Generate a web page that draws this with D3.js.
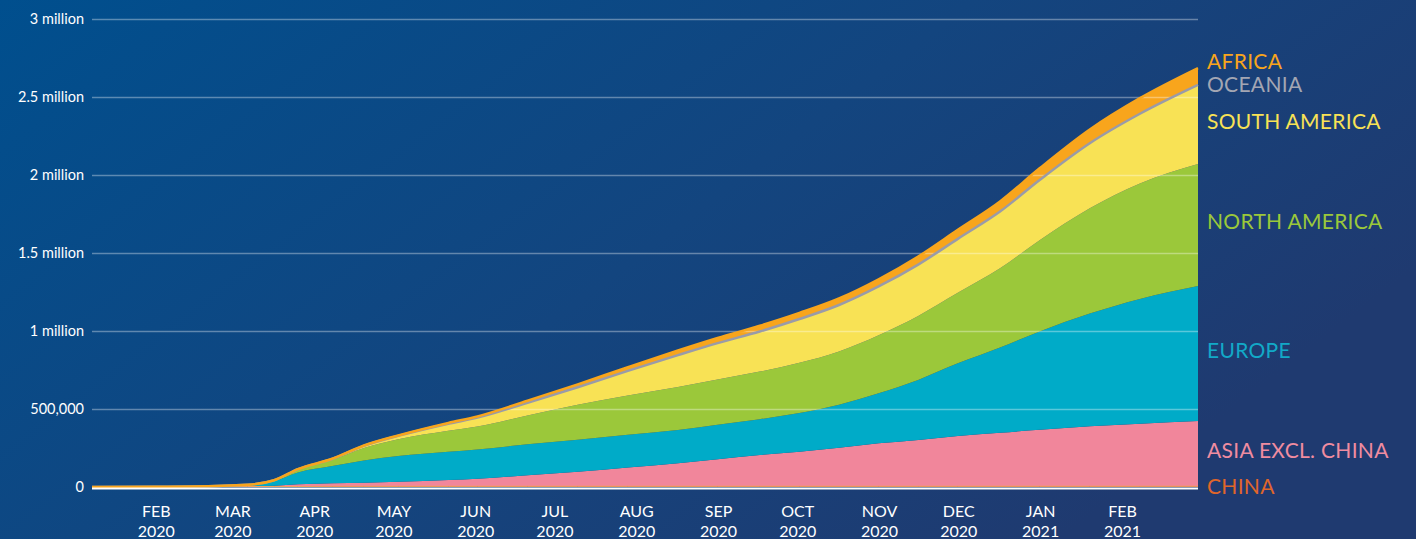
<html>
<head>
<script src="https://d3js.org/d3.v7.min.js"></script>
<style>
  body { margin: 0; background: #0d4581; }
  svg text { font-family: Lato, "Open Sans", sans-serif; }
  .gridlines line { stroke: #fff; stroke-opacity: 0.35; stroke-width: 1.5; }
  .gridlines .domain { stroke: none; }
</style>
</head>
<body>
<svg id="chart" width="1416" height="539"></svg>
<script>
// cumulative deaths, thousands
const dates = ['2020-01-22','2020-02-15','2020-02-29','2020-03-21','2020-03-31','2020-04-09','2020-04-22',
  '2020-05-04','2020-05-17','2020-06-05','2020-06-16','2020-07-05','2020-07-24','2020-08-12','2020-08-31',
  '2020-09-15','2020-10-01','2020-10-16','2020-10-31','2020-11-15','2020-11-30','2020-12-15','2020-12-31',
  '2021-01-15','2021-02-03','2021-02-22','2021-03-16'];
const china        = [0.02,1.67,2.87,3.26,3.3,3.3,4.6,4.6,4.6,4.6,4.6,4.6,4.6,4.7,4.7,4.7,4.7,4.7,4.7,4.7,4.7,4.7,4.8,4.8,4.8,4.8,4.85];
const asiaExChina  = [0,0,0.05,1.9,4.5,14,19,23,29,40,48,71,93,120,147,173,200,221,247,275,297,322,343,362,385,401,418];
const europe       = [0,0,0.03,8.5,30,76,111,143,165,181,188,198,206,210,214,221,230,248,276,321,385,466,547,630,722,800,865];
const northAmerica = [0,0,0,0.35,5,19,40,80,108,135,147,184,224,252,276,291,305,322,341,372,410,452,507,585,675,740,782];
const southAmerica = [0,0,0,0.03,0.4,1.5,5,13,21,45,57,82,112,157,203,232,256,280,297,312,328,345,363,385,416,446,507];
const oceania      = [0,0,0,0.01,0.02,0.05,0.1,0.12,0.13,0.13,0.13,0.15,0.2,0.35,0.65,0.85,0.95,0.95,0.95,0.95,0.95,0.95,0.95,0.95,0.95,0.95,0.95];
const africa       = [0,0,0,0.03,0.2,0.7,1.2,2,2.8,5,7.5,13,18,24,30,33,37,39,42,46,52,58,65,75,88,100,108];

const keys = ['china','asia','europe','northAmerica','southAmerica','oceania','africa'];
const seriesNames = ['CHINA','ASIA EXCL. CHINA','EUROPE','NORTH AMERICA','SOUTH AMERICA','OCEANIA','AFRICA'];
const seriesColors = ['#e8692a','#f1869b','#00abc8','#9bc83a','#f8e255','#9a9ba8','#f8a51c'];
const labelColors = ['#e0662a','#f08ca0','#12a9c8','#9bc83a','#f8e255','#a3a6b3','#f8a51c'];

const yTicks = [0, 500, 1000, 1500, 2000, 2500, 3000];
const yTickLabels = ['0','500,000','1 million','1.5 million','2 million','2.5 million','3 million'];
const monthLabels = ['FEB','MAR','APR','MAY','JUN','JUL','AUG','SEP','OCT','NOV','DEC','JAN','FEB'];
const yearLabels = ['2020','2020','2020','2020','2020','2020','2020','2020','2020','2020','2020','2021','2021'];

const parse = d3.timeParse('%Y-%m-%d');
const rows = dates.map((d, i) => ({
  date: parse(d), china: china[i], asia: asiaExChina[i], europe: europe[i],
  northAmerica: northAmerica[i], southAmerica: southAmerica[i], oceania: oceania[i], africa: africa[i]
}));

const svg = d3.select('svg#chart');
const width = +svg.attr('width');
const height = +svg.attr('height');
const margins = {top: 19, right: 218, bottom: 52, left: 92};

const defs = svg.append('defs');
const grad = defs.append('linearGradient').attr('id', 'bg')
  .attr('x1', 0).attr('y1', 0).attr('x2', 1).attr('y2', 0.5);
grad.append('stop').attr('offset', 0).attr('stop-color', '#004f8e');
grad.append('stop').attr('offset', 0.55).attr('stop-color', '#13457f');
grad.append('stop').attr('offset', 1).attr('stop-color', '#1f3a70');
svg.append('rect').attr('width', width).attr('height', height).attr('fill', 'url(#bg)');

const x = d3.scaleTime()
  .domain(d3.extent(rows, d => d.date))
  .range([margins.left, width - margins.right]);
const y = d3.scaleLinear()
  .domain([0, 3000])
  .range([height - margins.bottom, margins.top]);

const stack = d3.stack().keys(keys);
const layers = stack(rows);

const area = d3.area()
  .x(d => x(d.data.date))
  .y0(d => y(d[0]))
  .y1(d => y(d[1]))
  .curve(d3.curveMonotoneX);
const topLine = d3.line()
  .x(d => x(d.data.date))
  .y(d => y(d[1]))
  .curve(d3.curveMonotoneX);

svg.append('g').selectAll('path')
  .data(layers)
  .join('path')
  .attr('d', area)
  .attr('fill', (d, i) => seriesColors[i]);

// gridlines over the areas
const yGrid = d3.axisLeft(y).tickValues(yTicks.slice(1))
  .tickSize(-(width - margins.left - margins.right)).tickFormat('');
svg.append('g')
  .attr('class', 'gridlines')
  .attr('transform', `translate(${margins.left},0)`)
  .call(yGrid);

// thin series get an outline so they stay visible
svg.append('path').datum(layers[0]).attr('d', topLine)
  .attr('fill', 'none').attr('stroke', '#f3a15a').attr('stroke-width', 1);
svg.append('path').datum(layers[5]).attr('d', topLine)
  .attr('fill', 'none').attr('stroke', seriesColors[5]).attr('stroke-width', 2.5);
svg.append('path').datum(layers[6]).attr('d', topLine)
  .attr('fill', 'none').attr('stroke', seriesColors[6]).attr('stroke-width', 2.5);

// baseline
svg.append('line')
  .attr('x1', margins.left).attr('x2', width - margins.right)
  .attr('y1', y(0) + 1.5).attr('y2', y(0) + 1.5)
  .attr('stroke', '#fff').attr('stroke-width', 2);

// y labels
svg.append('g').selectAll('text')
  .data(yTicks)
  .join('text')
  .attr('x', margins.left - 8)
  .attr('y', d => y(d) + 5)
  .attr('text-anchor', 'end')
  .attr('fill', '#fff')
  .attr('font-size', 14.5)
  .text((d, i) => yTickLabels[i]);

// x labels at mid-month
const tickDates = monthLabels.map((m, i) => new Date(2020, 1 + i, 15));
const xl = svg.append('g').selectAll('text')
  .data(tickDates)
  .join('text')
  .attr('text-anchor', 'middle')
  .attr('fill', '#fff')
  .attr('font-size', 16);
xl.append('tspan').attr('x', d => x(d) + 1).attr('y', 517).text((d, i) => monthLabels[i]);
xl.append('tspan').attr('x', d => x(d) + 1).attr('y', 537).text((d, i) => yearLabels[i]);

// series labels on the right
const labelBaselines = [494, 458, 358, 229, 129, 92, 69];
svg.append('g').selectAll('text')
  .data(seriesNames)
  .join('text')
  .attr('x', width - margins.right + 9)
  .attr('y', (d, i) => labelBaselines[i])
  .attr('fill', (d, i) => labelColors[i])
  .attr('font-size', 21)
  .attr('letter-spacing', 0.3)
  .text(d => d);
</script>
</body>
</html>
